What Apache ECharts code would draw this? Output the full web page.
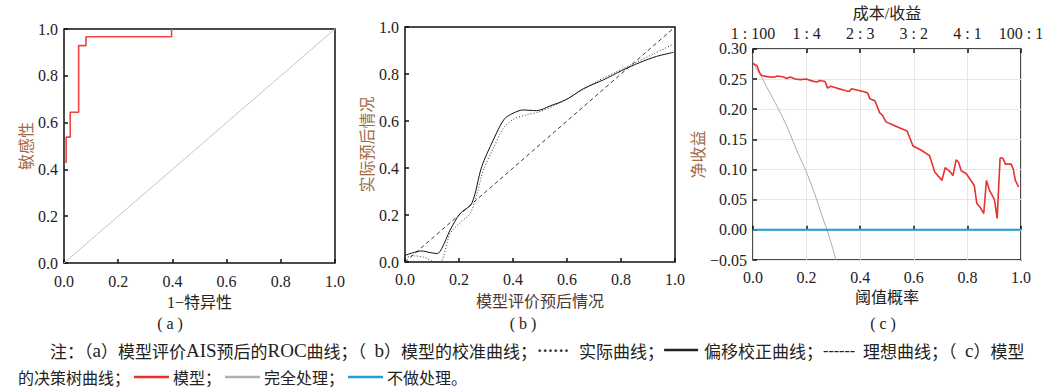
<!DOCTYPE html>
<html><head><meta charset="utf-8">
<script src="https://cdn.jsdelivr.net/npm/echarts@6/dist/echarts.min.js"></script>
<style>html,body{margin:0;padding:0;background:#fff}#c{width:1054px;height:388px}</style>
</head><body><div id="c"></div>
<script>
const FONT = '"Liberation Serif","Noto Sans CJK SC",serif';
const CJK = '"Noto Sans CJK SC","Liberation Serif",sans-serif';

// (a) ROC
const rocCurve = [[0.008,0.427],[0.008,0.538],[0.023,0.538],[0.023,0.644],[0.054,0.644],[0.054,0.929],[0.081,0.929],[0.081,0.967],[0.397,0.967],[0.397,1.0]];
const rocChance = [[0,0],[1,1]];

// (b) calibration
const calActual = [[0,0.017],[0.031,0.026],[0.068,0.021],[0.099,0.004],[0.111,0.0],[0.13,0.0],[0.167,0.12],[0.204,0.168],[0.241,0.206],[0.265,0.283],[0.29,0.39],[0.327,0.484],[0.364,0.569],[0.401,0.607],[0.45,0.626],[0.5,0.64],[0.562,0.671],[0.636,0.718],[0.71,0.768],[0.784,0.81],[0.846,0.844],[0.92,0.885],[0.994,0.927]];
const calCorrected = [[0,0.028],[0.062,0.047],[0.093,0.04],[0.12,0.036],[0.136,0.057],[0.167,0.135],[0.204,0.206],[0.247,0.249],[0.284,0.405],[0.327,0.519],[0.367,0.607],[0.40,0.633],[0.438,0.647],[0.488,0.644],[0.537,0.664],[0.599,0.692],[0.66,0.737],[0.735,0.775],[0.802,0.814],[0.87,0.849],[0.932,0.875],[0.994,0.892]];
const calIdeal = [[0,0],[1,1]];

// (c) decision curve
const dcaModel = [[0,0.276],[0.015,0.272],[0.025,0.26],[0.033,0.256],[0.052,0.254],[0.077,0.253],[0.092,0.255],[0.114,0.2535],[0.126,0.251],[0.139,0.2535],[0.157,0.25],[0.176,0.249],[0.198,0.25],[0.219,0.247],[0.238,0.245],[0.25,0.2475],[0.269,0.246],[0.278,0.235],[0.29,0.238],[0.312,0.235],[0.337,0.232],[0.359,0.2295],[0.368,0.234],[0.387,0.232],[0.411,0.2295],[0.428,0.227],[0.436,0.2175],[0.455,0.214],[0.473,0.194],[0.483,0.19],[0.496,0.179],[0.523,0.174],[0.548,0.169],[0.575,0.164],[0.597,0.139],[0.628,0.132],[0.659,0.123],[0.678,0.096],[0.705,0.082],[0.717,0.103],[0.734,0.097],[0.746,0.09],[0.758,0.116],[0.767,0.112],[0.777,0.098],[0.796,0.093],[0.826,0.073],[0.835,0.044],[0.848,0.037],[0.861,0.027],[0.871,0.082],[0.882,0.066],[0.901,0.05],[0.911,0.019],[0.922,0.119],[0.932,0.119],[0.942,0.109],[0.963,0.109],[0.971,0.101],[0.979,0.082],[0.991,0.071]];
const dcaTreatAll = [[0,0.276],[0.03,0.255],[0.05,0.238],[0.08,0.213],[0.1,0.196],[0.13,0.168],[0.16,0.135],[0.2,0.095],[0.23,0.06],[0.26,0.02],[0.28,-0.005],[0.31,-0.05]];
const dcaTreatNone = [[0,0],[1,0]];
const costBenefitLabels = ['1 : 100','1 : 4','2 : 3','3 : 2','4 : 1','100 : 1'];

const AXC = '#111';
const NAMEC = '#a06a48';
const txt = {fontFamily: FONT, fontSize: 16, color: '#222'};

function valAxis(grid, pos, opt) {
  return Object.assign({
    type: 'value', gridIndex: grid, position: pos, min: 0, max: 1, interval: 0.2,
    axisLine: {show: false},
    axisTick: {show: true, inside: true, length: 4, lineStyle: {color: AXC, width: 1.5}},
    axisLabel: Object.assign({margin: 6, formatter: v => v.toFixed(1)}, txt),
    splitLine: {show: false},
    nameLocation: 'middle',
    nameTextStyle: Object.assign({}, txt)
  }, opt);
}

const gridBase = {show: true, borderColor: AXC, borderWidth: 1.5, containLabel: false};

const option = {
  animation: false,
  textStyle: {fontFamily: FONT},
  grid: [
    Object.assign({left: 64, top: 29, width: 271, height: 234}, gridBase),
    Object.assign({left: 405, top: 27, width: 270, height: 235}, gridBase),
    Object.assign({left: 753, top: 48, width: 268, height: 212}, gridBase)
  ],
  xAxis: [
    valAxis(0, 'bottom', {name: '1−特异性', nameGap: 31, axisLabel: Object.assign({margin: 10, formatter: v => v.toFixed(1)}, txt)}),
    valAxis(1, 'bottom', {name: '模型评价预后情况', nameGap: 31, nameTextStyle: Object.assign({}, txt, {color: '#4a3a32'}), axisLabel: Object.assign({margin: 9, formatter: v => v.toFixed(1)}, txt)}),
    valAxis(2, 'bottom', {name: '阈值概率', nameGap: 29, axisLabel: Object.assign({margin: 9, formatter: v => v.toFixed(1)}, txt), splitLine: {show: true, lineStyle: {color: '#e6e6e6', width: 1}}}),
    valAxis(2, 'top', {name: '成本/收益', nameGap: 25, axisLabel: Object.assign({margin: 7, formatter: v => costBenefitLabels[Math.round(v / 0.2)]}, txt)})
  ],
  yAxis: [
    valAxis(0, 'left', {name: '敏感性', nameGap: 30, nameTextStyle: Object.assign({}, txt, {color: NAMEC})}),
    valAxis(1, 'left', {name: '实际预后情况', nameGap: 30, nameTextStyle: Object.assign({}, txt, {color: NAMEC})}),
    valAxis(2, 'left', {name: '净收益', nameGap: 44, min: -0.05, max: 0.30, interval: 0.05,
      nameTextStyle: Object.assign({}, txt, {color: NAMEC}),
      axisLabel: Object.assign({margin: 6, formatter: v => v.toFixed(2).replace('-', '−')}, txt),
      splitLine: {show: true, lineStyle: {color: '#e6e6e6', width: 1}}})
  ],
  series: [
    {type: 'line', xAxisIndex: 0, yAxisIndex: 0, data: rocChance, symbol: 'none', lineStyle: {color: '#c4c4c4', width: 1}},
    {type: 'line', xAxisIndex: 0, yAxisIndex: 0, data: rocCurve, symbol: 'none', lineStyle: {color: '#ee4444', width: 1.6}},
    {type: 'line', xAxisIndex: 1, yAxisIndex: 1, data: calIdeal, symbol: 'none', lineStyle: {color: '#222', width: 0.9, type: [4, 3]}},
    {type: 'line', xAxisIndex: 1, yAxisIndex: 1, data: calActual, symbol: 'none', smooth: 0.3, lineStyle: {color: '#222', width: 0.9, type: [1, 2]}},
    {type: 'line', xAxisIndex: 1, yAxisIndex: 1, data: calCorrected, symbol: 'none', smooth: 0.3, lineStyle: {color: '#111', width: 1}},
    {type: 'line', xAxisIndex: 2, yAxisIndex: 2, data: dcaTreatAll, symbol: 'none', smooth: 0.2, lineStyle: {color: '#aaaaaa', width: 1}},
    {type: 'line', xAxisIndex: 2, yAxisIndex: 2, data: dcaTreatNone, symbol: 'none', lineStyle: {color: '#1e9fdc', width: 2}},
    {type: 'line', xAxisIndex: 2, yAxisIndex: 2, data: dcaModel, symbol: 'none', lineStyle: {color: '#e8302c', width: 1.6}}
  ],
  graphic: [
    {type: 'text', x: 170, y: 323, style: {text: '( a )', align: 'center', verticalAlign: 'middle', fontFamily: FONT, fontSize: 16, fill: '#222'}},
    {type: 'text', x: 523, y: 323, style: {text: '( b )', align: 'center', verticalAlign: 'middle', fontFamily: FONT, fontSize: 16, fill: '#222'}},
    {type: 'text', x: 883, y: 323, style: {text: '( c )', align: 'center', verticalAlign: 'middle', fontFamily: FONT, fontSize: 16, fill: '#222'}},
    {type: 'text', x: 50, y: 350, style: {
      text: '注：（{lat|a}）模型评价{lat|AIS}预后的{lat|ROC}曲线；（{lat|b}）模型的校准曲线；{dot|······}{sp| }实际曲线；{lk| }{sp| }偏移校正曲线；{dash|------}{sp| }理想曲线；（{lat|c}）模型',
      verticalAlign: 'middle', fontFamily: CJK, fontSize: 17, fill: '#222',
      rich: {
        lat: {fontFamily: '"Liberation Serif"', fontSize: 19, fill: '#222'},
        dot: {fontFamily: '"Liberation Serif"', fontSize: 16, fontWeight: 'bold', width: 36, fill: '#222'},
        dash: {fontFamily: '"Liberation Serif"', fontSize: 16, width: 34, fill: '#222'},
        sp: {width: 6},
        lk: {width: 34, height: 2.5, backgroundColor: '#222'}
      }}},
    {type: 'text', x: 18, y: 377, style: {
      text: '的决策树曲线；{sp0| }{lr| }{sp| }模型；{sp0| }{lg| }{sp| }完全处理；{sp0| }{lb| }{sp| }不做处理。',
      verticalAlign: 'middle', fontFamily: CJK, fontSize: 16, fill: '#222',
      rich: {
        sp0: {width: 4},
        sp: {width: 4},
        lr: {width: 35, height: 2.5, backgroundColor: '#e8302c'},
        lg: {width: 35, height: 2.5, backgroundColor: '#b0b0b0'},
        lb: {width: 35, height: 2.5, backgroundColor: '#1e9fdc'}
      }}}
  ]
};
const chart = echarts.init(document.getElementById('c'), null, {renderer: 'svg'});
chart.setOption(option);
</script></body></html>
